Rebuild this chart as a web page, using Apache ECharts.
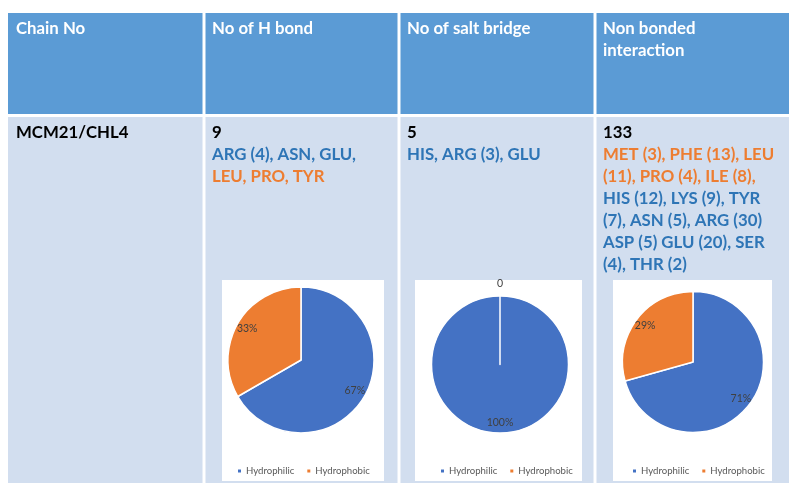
<!DOCTYPE html>
<html>
<head>
<meta charset="utf-8">
<script src="https://cdn.jsdelivr.net/npm/echarts@6/dist/echarts.min.js"></script>
<style>
html,body{margin:0;padding:0;background:#fff;}
#chart{width:800px;height:493px;}
</style>
</head>
<body>
<div id="chart"></div>
<script>
// ---------- data ----------
const headers = ['Chain No', 'No of H bond', 'No of salt bridge', 'Non bonded\ninteraction'];
const chainName = 'MCM21/CHL4';
const counts = ['9', '5', '133'];
const pieCategories = ['Hydrophilic', 'Hydrophobic'];
const hBondValues = [6, 3];
const saltBridgeValues = [5, 0];
const nonBondedValues = [94, 39];
const hBondLines = [
  [['ARG (4), ASN, GLU,', 'philic']],
  [['LEU, PRO, TYR', 'phobic']]
];
const saltBridgeLines = [
  [['HIS, ARG (3), GLU', 'philic']]
];
const nonBondedLines = [
  [['MET (3), PHE (13), LEU', 'phobic']],
  [['(11), PRO (4), ILE (8),', 'phobic']],
  [['HIS (12), LYS (9), TYR', 'philic']],
  [['(7), ASN (5), ARG (30)', 'philic']],
  [['ASP (5) GLU (20), SER', 'philic']],
  [['(4), THR (2)', 'philic']]
];

// ---------- style ----------
const FONT = 'Lato, "Liberation Sans", sans-serif';
const FS = '16.8px ';
const HEADER_BG = '#5B9BD5';
const BODY_BG = '#D2DEEF';
const TXT_BLUE = '#2E75B6';
const TXT_ORANGE = '#ED7D31';
const PIE_BLUE = '#4472C4';
const PIE_ORANGE = '#ED7D31';
const colX = [8, 204, 399, 595, 789];
const headTop = 13, headBottom = 114, bodyTop = 117, bodyBottom = 483;
const gap = 1.5;

const graphics = [];
for (let i = 0; i < 4; i++) {
  const x0 = colX[i] + (i ? gap : 0);
  const w = colX[i+1] - colX[i] - (i ? gap : 0) - (i < 3 ? gap : 0);
  graphics.push({type:'rect', silent:true, shape:{x:x0, y:headTop, width:w, height:headBottom-headTop}, style:{fill:HEADER_BG}});
  graphics.push({type:'rect', silent:true, shape:{x:x0, y:bodyTop, width:w, height:bodyBottom-bodyTop}, style:{fill:BODY_BG}});
  graphics.push({type:'text', silent:true, x:colX[i] + 8, y:18, style:{text:headers[i], fill:'#fff', font:'bold ' + FS + FONT, lineHeight:22}});
}
graphics.push({type:'text', silent:true, x:colX[0] + 8, y:124, style:{text:chainName, fill:'#000', font:'bold ' + FS + FONT}});
const cellLines = [hBondLines, saltBridgeLines, nonBondedLines];
for (let c = 0; c < 3; c++) {
  graphics.push({type:'text', silent:true, x:colX[c+1] + 8, y:124, style:{text:counts[c], fill:'#000', font:'bold ' + FS + FONT}});
  cellLines[c].forEach((segs, li) => {
    graphics.push({type:'text', silent:true, x:colX[c+1] + 8, y:146 + li*22, style:{
      text: segs.map(s => '{' + s[1] + '|' + s[0] + '}').join(''),
      rich:{
        philic:{fill:TXT_BLUE, font:'bold ' + FS + FONT},
        phobic:{fill:TXT_ORANGE, font:'bold ' + FS + FONT}
      }
    }});
  });
}
// white chart boxes
const boxes = [[222,280,162,201],[415,280,167,201],[613,280,159,201]];
boxes.forEach(b => graphics.push({type:'rect', silent:true, shape:{x:b[0], y:b[1], width:b[2], height:b[3]}, style:{fill:'#fff'}}));

const pies = [
  {values:hBondValues, center:[301,360], r:73, legendLeft:236},
  {values:saltBridgeValues, center:[500,364.5], r:68.5, legendLeft:439},
  {values:nonBondedValues, center:[693,362], r:70.5, legendLeft:631}
];
const mkData = vals => pieCategories.map((n, i) => ({name:n, value:vals[i]}));
const series = [];
pies.forEach(p => {
  series.push({
    type:'pie', center:p.center, radius:p.r, startAngle:90, clockwise:true,
    data:mkData(p.values), label:{show:false}, labelLine:{show:false},
    itemStyle:{borderColor:'#fff', borderWidth:1.5}, emphasis:{disabled:true}, silent:true
  });
});
pies.forEach(p => {
  series.push({
    type:'pie', center:p.center, radius:[p.r*0.62, p.r], startAngle:90, clockwise:true,
    data:mkData(p.values), itemStyle:{color:'rgba(0,0,0,0)'}, labelLine:{show:false},
    emphasis:{disabled:true}, silent:true,
    label:{show:true, position:'inside', fontSize:10.5, color:'#404040', fontFamily:FONT,
      formatter: q => q.value === 0 ? '0' : Math.round(q.percent) + '%'},
    labelLayout: q => (q.dataIndex === 1 && p.values[1] === 0) ? {dy: -22} : {}
  });
});
const legends = pies.map(p => ({
  data:pieCategories, left:p.legendLeft, top:466, padding:0, icon:'rect', itemWidth:5, itemHeight:5, itemGap:11,
  selectedMode:false, textStyle:{fontSize:9.6, color:'#595959', fontFamily:FONT, padding:[0,0,0,-1]}
}));

const chart = echarts.init(document.getElementById('chart'), null, {renderer:'canvas'});
chart.setOption({
  animation:false,
  backgroundColor:'#fff',
  color:[PIE_BLUE, PIE_ORANGE],
  graphic:{elements:graphics},
  legend:legends,
  series:series
});
</script>
</body>
</html>
